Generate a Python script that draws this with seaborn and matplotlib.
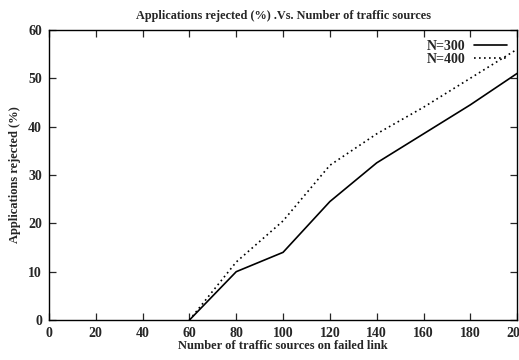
import matplotlib
matplotlib.use("Agg")
import matplotlib.pyplot as plt
import seaborn as sns
import pandas as pd

# values
sources = [60, 80, 100, 120, 140, 160, 180, 200]
rejected_n300 = [0, 10, 14, 24.5, 32.5, 38.5, 44.5, 51]
rejected_n400 = [0, 12, 20.5, 32, 38.5, 44, 50, 56]

df = pd.DataFrame({
    "sources": sources * 2,
    "rejected": rejected_n300 + rejected_n400,
    "series": ["N=300"] * len(sources) + ["N=400"] * len(sources),
})

sns.set_style("ticks")
plt.rcParams["font.family"] = ["Liberation Serif", "DejaVu Serif"]
plt.rcParams["font.weight"] = "bold"

fig = plt.figure(figsize=(5.19, 3.6), dpi=100)
ax = fig.add_axes([0.0944, 0.111, 0.902, 0.806])

sns.lineplot(data=df, x="sources", y="rejected", hue="series", style="series",
             palette=["black", "black"], dashes={"N=300": "", "N=400": (1, 2)},
             linewidth=1.2, ax=ax)

ax.set_xlim(0, 200)
ax.set_ylim(0, 60)
ax.set_xticks(range(0, 201, 20))
ax.set_yticks(range(0, 61, 10))
ax.tick_params(direction="in", top=True, right=True, length=5, width=0.9,
               labelsize=10, pad=5)
for lbl in ax.get_xticklabels() + ax.get_yticklabels():
    lbl.set_fontweight("bold")
for s in ax.spines.values():
    s.set_linewidth(1.0)
    s.set_color("black")

ax.set_xlabel("Number of traffic sources on failed link", fontsize=9,
              fontweight="bold", labelpad=0)
ax.set_ylabel("Applications rejected (%)", fontsize=9, fontweight="bold",
              labelpad=5)
ax.set_title("Applications rejected (%) .Vs. Number of traffic sources",
             fontsize=8.8, fontweight="bold", pad=8)

leg = ax.legend(loc="upper right", frameon=False, markerfirst=False,
                fontsize=10, handlelength=2.4, labelspacing=0.0,
                borderaxespad=0.3, handletextpad=0.6)
for t in leg.get_texts():
    t.set_fontweight("bold")

fig.savefig("out.png", dpi=100)
